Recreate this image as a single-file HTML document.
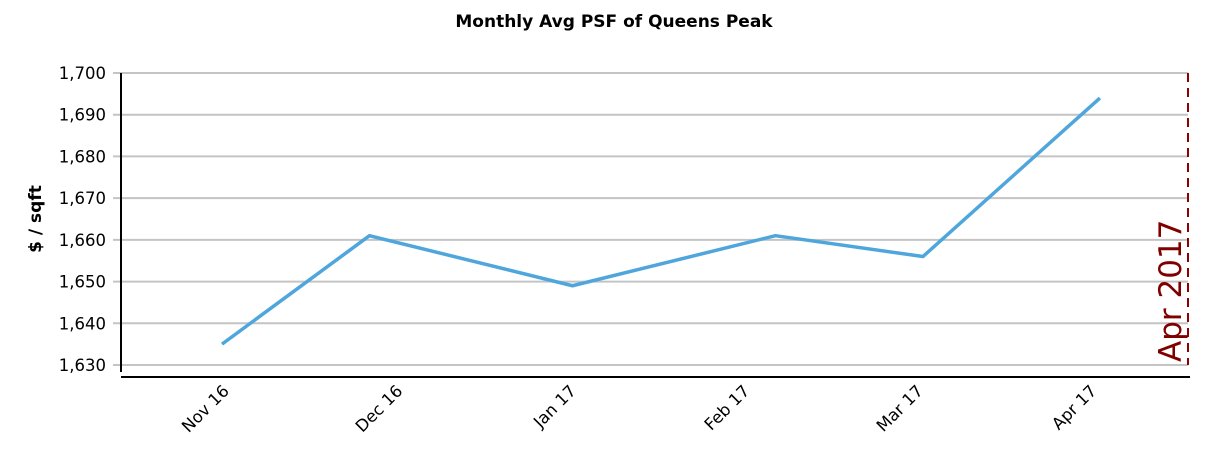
<!DOCTYPE html>
<html><head><meta charset="utf-8"><style>
body{margin:0;background:#fff;}
svg text{font-family:"DejaVu Sans","Liberation Sans",sans-serif;}
</style></head><body>
<svg id="chart" width="1227" height="459" viewBox="0 0 1227 459" xmlns="http://www.w3.org/2000/svg">
<text x="614" y="27" text-anchor="middle" font-size="17" font-weight="bold">Monthly Avg PSF of Queens Peak</text>
<text transform="translate(41,219) rotate(-90)" text-anchor="middle" font-size="17" font-weight="bold">$ / sqft</text>
<g id="grid"></g><g id="axes"></g><g id="series"></g>
</svg>
<script>
const categories=["Nov 16","Dec 16","Jan 17","Feb 17","Mar 17","Apr 17"];
const monthPos=[0,0.85,2.02,3.19,4.04,5.06];
const psfValues=[1635,1661,1649,1661,1656,1694];
const yTicks=[1630,1640,1650,1660,1670,1680,1690,1700];
const yTickLabels=["1,630","1,640","1,650","1,660","1,670","1,680","1,690","1,700"];
const markerLabel="Apr 2017";
const NS="http://www.w3.org/2000/svg";
function yS(v){return 365+(v-1630)*(73-365)/70;}
function xS(m){return 222+m*173.5;}
function mk(tag,attrs,parent){const e=document.createElementNS(NS,tag);for(const k in attrs)e.setAttribute(k,attrs[k]);parent.appendChild(e);return e;}
const grid=document.getElementById('grid'),axes=document.getElementById('axes'),series=document.getElementById('series');
yTicks.forEach((t,i)=>{
 const y=yS(t);
 const l=mk('line',{x1:113,x2:1188,y1:y,y2:y,stroke:'#c4c4c4','stroke-width':2},grid);
 
 
 const tx=mk('text',{x:106,y:y+6,'text-anchor':'end','font-size':16.5},axes);
 tx.textContent=yTickLabels[i];
 
 
});
const ya=mk('line',{x1:121,x2:121,y1:73,y2:372,stroke:'#000','stroke-width':2},axes);


const xa=mk('line',{x1:121,x2:1190,y1:377,y2:377,stroke:'#000','stroke-width':2},axes);


categories.forEach((c,i)=>{
 const lx=xS(i);
 const t=mk('text',{transform:`translate(${lx+8},${392}) rotate(-45)`,'text-anchor':'end','font-size':16.5},axes);
 t.textContent=c;
 
 
});
const pts=psfValues.map((v,i)=>xS(monthPos[i])+','+yS(v)).join(' ');
const pl=mk('polyline',{points:pts,fill:'none',stroke:'#4fa6dc','stroke-width':3.5,'stroke-linejoin':'round'},series);


const dl=mk('line',{x1:1188,x2:1188,y1:73,y2:365,stroke:'#8b0000','stroke-width':2,'stroke-dasharray':'9,6'},series);


const mt=mk('text',{transform:'translate(1181,362) rotate(-90)','font-size':31,fill:'#800000','font-family':'"Liberation Sans",sans-serif'},series);
mt.textContent=markerLabel;


</script>
</body></html>
